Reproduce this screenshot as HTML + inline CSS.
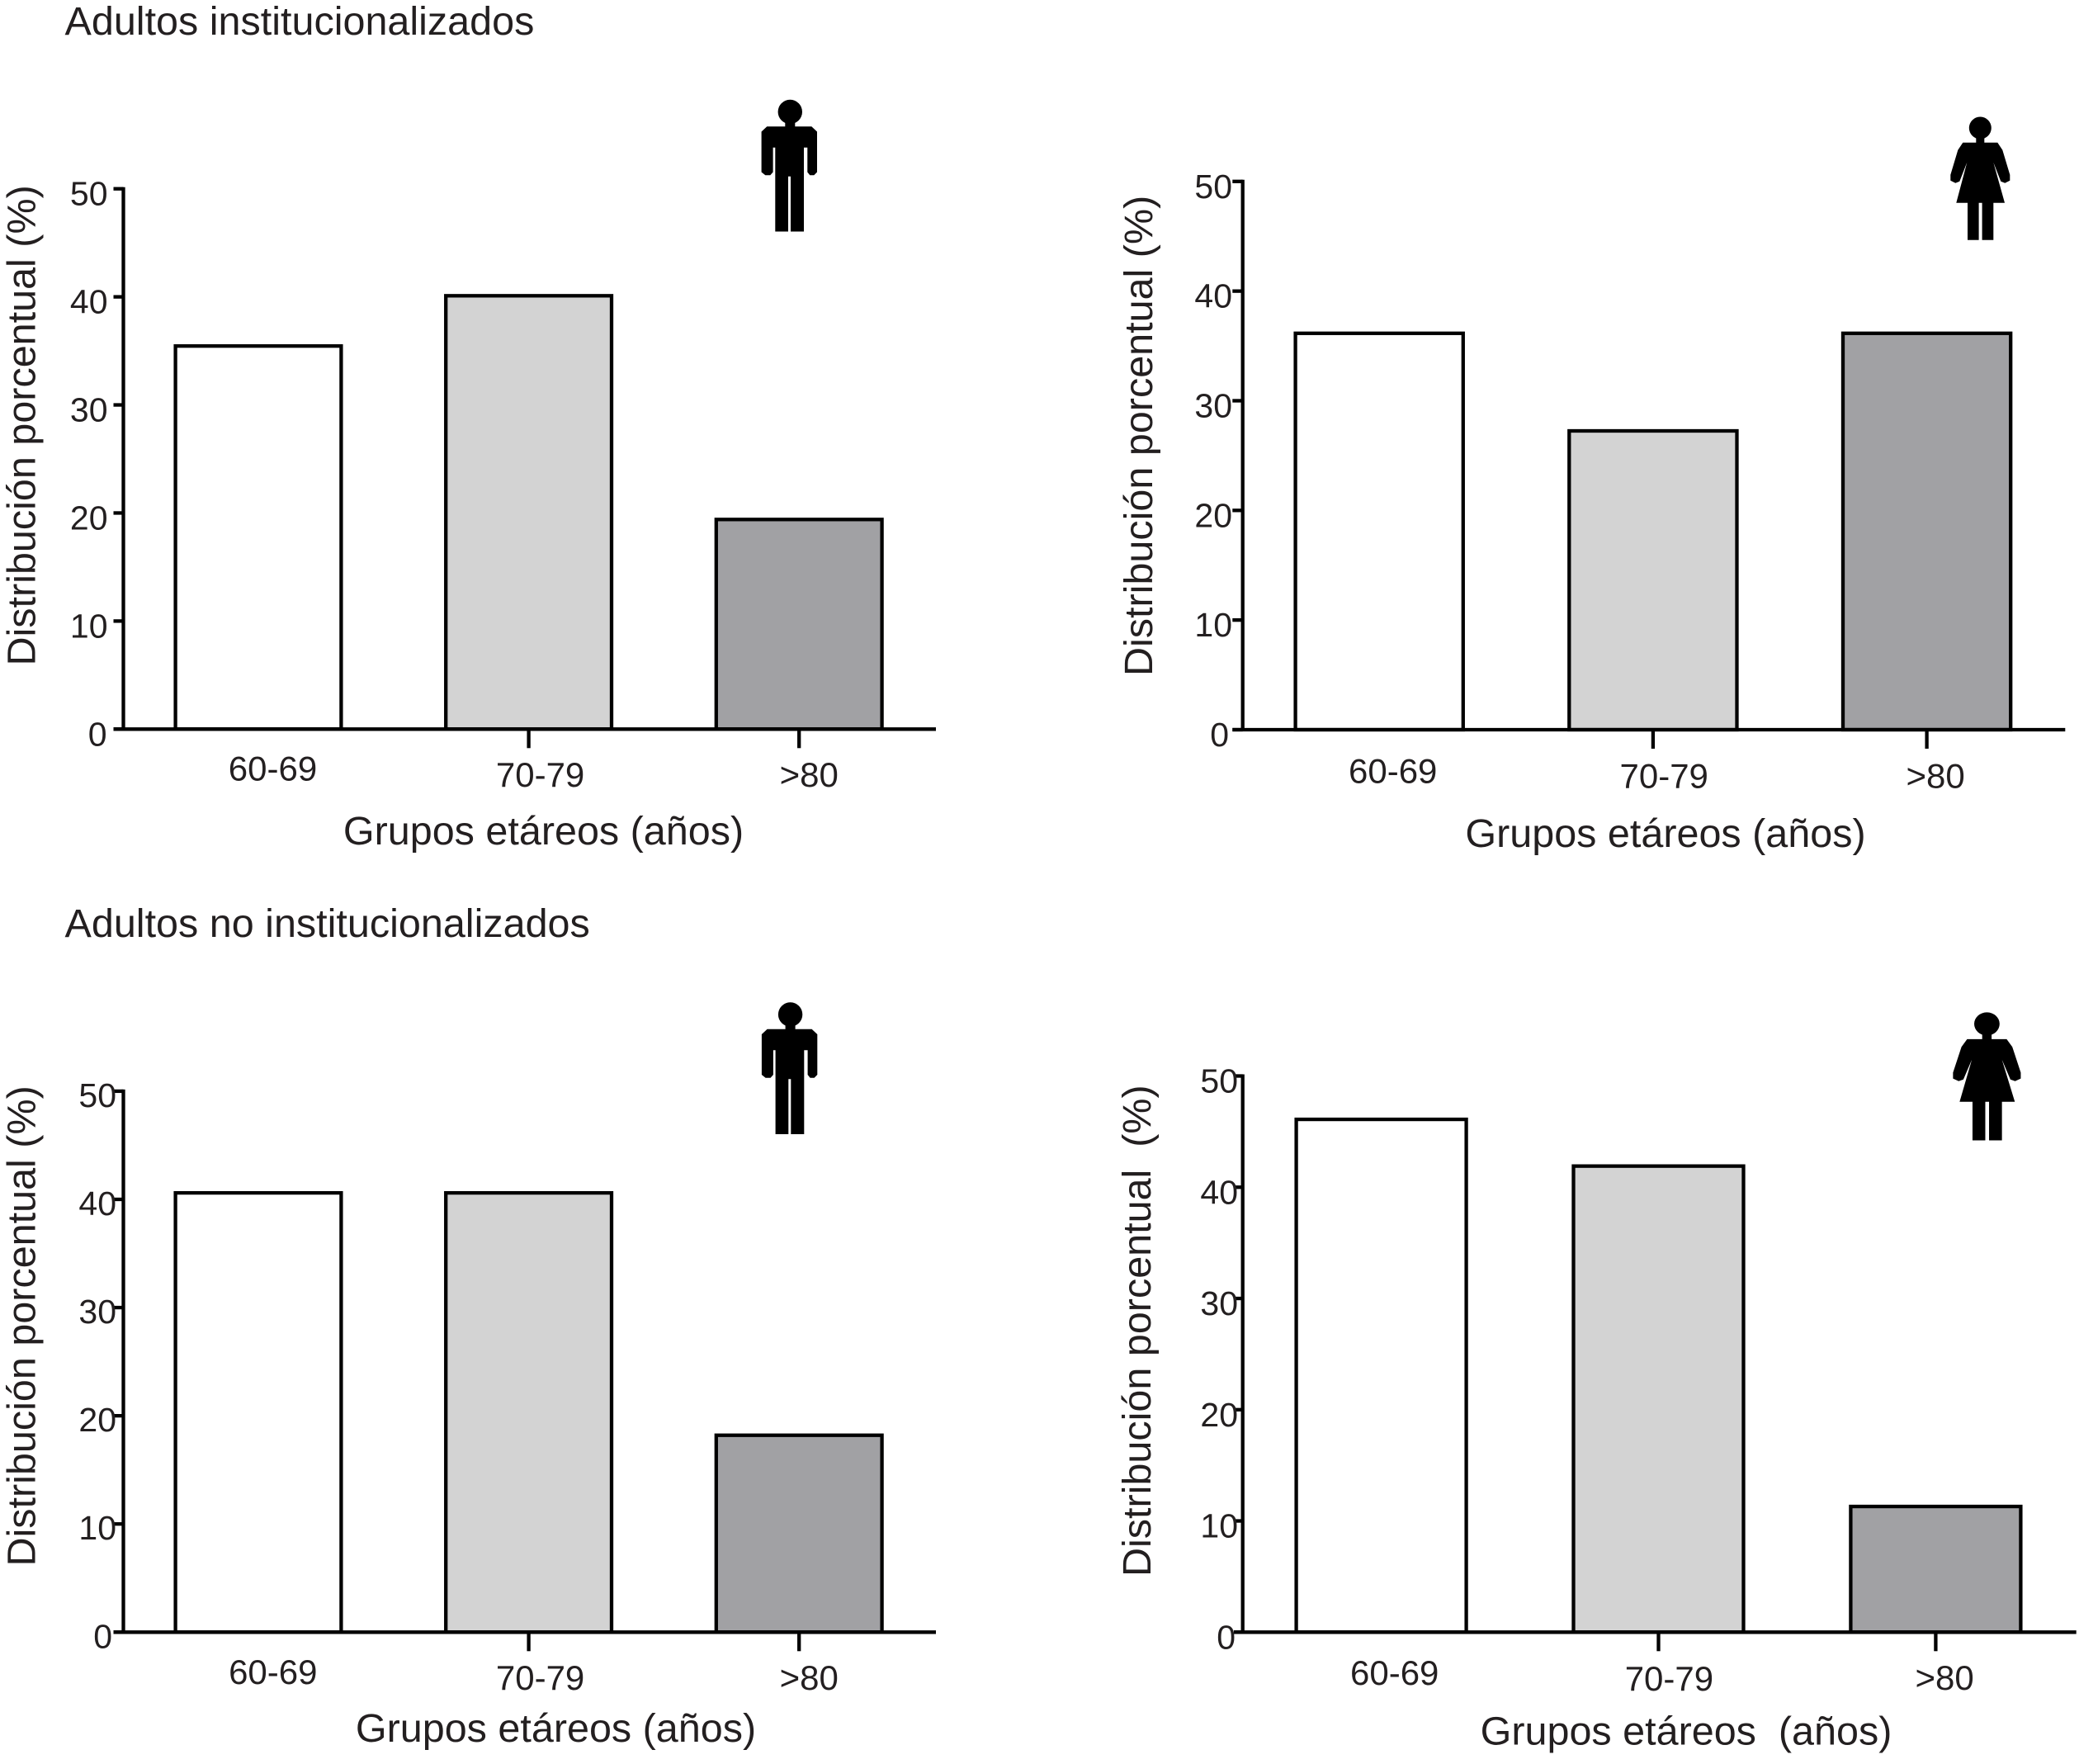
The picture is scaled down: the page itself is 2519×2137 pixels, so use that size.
<!DOCTYPE html>
<html lang="es">
<head>
<meta charset="utf-8">
<title>Distribución porcentual por grupos etáreos</title>
<style>
  html, body { margin: 0; padding: 0; background: #fff; }
  svg { display: block; }
  text { font-family: "Liberation Sans", Arial, sans-serif; fill: #231f20; white-space: pre; }
  .big { font-size: 48.5px; }
  .num { font-size: 41px; }
  .cat { font-size: 42px; }
</style>
</head>
<body>
<svg id="figure" xmlns="http://www.w3.org/2000/svg" width="2519" height="2137" viewBox="0 0 2519 2137">
  <defs>
    <g id="man-shape">
      <circle cx="0" cy="15" r="14.7"/>
      <rect x="-6" y="24" width="12" height="12"/>
      <path d="M-28 32.7 L26 32.7 L32.7 39 L32.7 88 L29 91.7 L24 91.7 L21 88 L21 58.3 L16.7 58.3 L16.7 160 L0.7 160 L0.7 93.3 L-2.3 93.3 L-2.3 160 L-18 160 L-18 58.3 L-20.7 58.3 L-20.7 88 L-24 91.7 L-30 91.7 L-34.7 88 L-34.7 39 Z"/>
    </g>
    <g id="woman-shape">
      <circle cx="0" cy="13.3" r="13.5"/>
      <rect x="-5" y="23" width="10" height="10"/>
      <path d="M-21 31 L21 31 L27 40 L36 70 L36 77 L30 80 L25 78 L16 55 L29.7 104 L16 104 L16 149 L2.3 149 L2.3 104 L-1.7 104 L-1.7 149 L-15.3 149 L-15.3 104 L-29 104 L-16 55 L-25 78 L-30 80 L-36 77 L-36 70 L-27 40 Z"/>
    </g>
  </defs>

  <text class="big" x="78.5" y="42">Adultos institucionalizados</text>
  <text class="big" x="78.5" y="1135">Adultos no institucionalizados</text>

  <g id="panel-a">
    <text class="big" transform="translate(42.3 806.5) rotate(-90)">Distribución porcentual (%)</text>
    <text class="big" text-anchor="middle" x="658.5" y="1023">Grupos etáreos (años)</text>
    <use href="#man-shape" transform="translate(957.3 120.5)"/>
  </g>
  <g id="panel-b">
    <text class="big" transform="translate(1396 819) rotate(-90)">Distribución porcentual (%)</text>
    <text class="big" text-anchor="middle" x="2018" y="1026">Grupos etáreos (años)</text>
    <use href="#woman-shape" transform="translate(2399.3 141.7)"/>
  </g>
  <g id="panel-c">
    <text class="big" transform="translate(42.3 1897.5) rotate(-90)">Distribución porcentual (%)</text>
    <text class="big" text-anchor="middle" x="673.5" y="2110">Grupos etáreos (años)</text>
    <use href="#man-shape" transform="translate(957.6 1214)"/>
  </g>
  <g id="panel-d">
    <text class="big" transform="translate(1394 1910) rotate(-90)">Distribución porcentual  (%)</text>
    <text class="big" text-anchor="middle" x="2043" y="2113.5">Grupos etáreos  (años)</text>
    <use href="#woman-shape" transform="translate(2407.4 1226.6) scale(1.14 1.04)"/>
  </g>
</svg>

<script>
// Chart data
const categories = ['60-69', '70-79', '>80'];
const yTickLabels = [0, 10, 20, 30, 40, 50];
const menInstitutionalized = [35.45, 40.1, 19.4];
const womenInstitutionalized = [36.15, 27.25, 36.15];
const menNonInstitutionalized = [40.6, 40.6, 18.2];
const womenNonInstitutionalized = [46.1, 41.9, 11.3];
const barFills = ['#ffffff', '#d3d3d3', '#a1a1a4'];

// Panel geometry
const panels = [
  { id: 'panel-a', values: menInstitutionalized, axisX: 149.5, tickLeft: 137.5, axisEnd: 1134, base: 883.3, top: 228.7,
    first: 313, step: 327.6, barW: 200.8, numRight: 130.5, zeroRight: 129.5, numDy: 20,
    labelDx: [17.5, 14, 12], labelDy: [62.4, 69.7, 69.7] },
  { id: 'panel-b', values: womenInstitutionalized, axisX: 1505.7, tickLeft: 1493.3, axisEnd: 2502.3, base: 884, top: 219.8,
    first: 1671.2, step: 331.7, barW: 203.2, numRight: 1493, zeroRight: 1489, numDy: 20,
    labelDx: [16.5, 13.3, 10.5], labelDy: [64.3, 70.3, 70.3] },
  { id: 'panel-c', values: menNonInstitutionalized, axisX: 149.5, tickLeft: 137.5, axisEnd: 1134, base: 1977.3, top: 1321.9,
    first: 313, step: 327.6, barW: 200.8, numRight: 141, zeroRight: 136, numDy: 19,
    labelDx: [17.8, 14, 12], labelDy: [62.7, 69.7, 69.7] },
  { id: 'panel-d', values: womenNonInstitutionalized, axisX: 1505.7, tickLeft: 1495, axisEnd: 2515.7, base: 1977.3, top: 1303.5,
    first: 1673.6, step: 335.9, barW: 206, numRight: 1500, zeroRight: 1497, numDy: 20,
    labelDx: [16.1, 12.9, 10.7], labelDy: [63.7, 70.7, 69.7] }
];

const SVG_NS = 'http://www.w3.org/2000/svg';
const STROKE = 4.3;

function make(tag, attrs, parent) {
  const el = document.createElementNS(SVG_NS, tag);
  for (const k in attrs) el.setAttribute(k, attrs[k]);
  parent.appendChild(el);
  return el;
}

function yScale(p, v) {
  const maxTick = yTickLabels[yTickLabels.length - 1];
  return p.base - (v / maxTick) * (p.base - p.top);
}

function xScale(p, i) {
  return p.first + i * p.step;
}

function drawPanel(p) {
  const g = document.getElementById(p.id);

  p.values.forEach(function (v, i) {
    const cx = xScale(p, i);
    const y = yScale(p, v);
    const bar = make('rect', {
      x: cx - p.barW / 2, y: y, width: p.barW, height: yScale(p, 0) - y,
      fill: barFills[i], stroke: '#000', 'stroke-width': STROKE
    }, g);
    
    
  });

  const yAxis = make('line', { x1: p.axisX, x2: p.axisX, y1: p.top - 2, y2: p.base, stroke: '#000', 'stroke-width': STROKE }, g);
  
  

  const xAxis = make('line', { x1: p.tickLeft, x2: p.axisEnd, y1: p.base, y2: p.base, stroke: '#000', 'stroke-width': STROKE }, g);
  
  

  yTickLabels.forEach(function (t) {
    const y = yScale(p, t);
    const tick = make('line', { x1: p.tickLeft, x2: p.axisX, y1: y, y2: y, stroke: '#000', 'stroke-width': STROKE }, g);
    
    

    const label = make('text', {
      x: t === 0 ? p.zeroRight : p.numRight, y: y + p.numDy, 'text-anchor': 'end', 'class': 'num'
    }, g);
    label.textContent = String(t);
    
    
  });

  categories.forEach(function (c, i) {
    const cx = xScale(p, i);
    if (i > 0) {
      const tick = make('line', { x1: cx, x2: cx, y1: p.base, y2: p.base + 23, stroke: '#000', 'stroke-width': STROKE }, g);
      
      
    }
    const label = make('text', {
      x: cx + p.labelDx[i], y: p.base + p.labelDy[i], 'text-anchor': 'middle', 'class': 'cat'
    }, g);
    label.textContent = c;
    
    
  });
}

panels.forEach(drawPanel);
</script>
</body>
</html>
